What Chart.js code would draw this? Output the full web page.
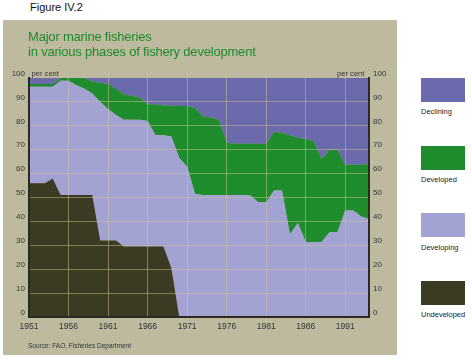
<!DOCTYPE html>
<html>
<head>
<meta charset="utf-8">
<script src="https://cdn.jsdelivr.net/npm/chart.js@4/dist/chart.umd.min.js"></script>
<style>
  html, body { margin:0; padding:0; background:#fff; }
  body { width:472px; height:361px; position:relative; overflow:hidden; font-family:"Liberation Sans", Arial, sans-serif; }
  .abs { position:absolute; white-space:nowrap; }
  #fig { left:30px; top:1px; font-size:11px; line-height:13px; color:#111; }
  #panel { left:3px; top:20px; width:394px; height:335px; background:#bebaa0; }
  #title { left:28px; top:30px; font-size:13px; line-height:14.5px; color:#1d8a2c; letter-spacing:-0.2px; }
  .pc { font-size:7.6px; line-height:9px; color:#333; top:69px; }
  #src { left:28px; top:342px; font-size:6.5px; line-height:8px; color:#333; }
  .box { position:absolute; left:421px; width:44px; height:24px; }
  .lab { position:absolute; left:421px; font-size:7.5px; line-height:9px; color:#222; }
</style>
</head>
<body>
<div id="fig" class="abs">Figure IV.2</div>
<div id="panel" class="abs"><canvas id="c" width="394" height="335"></canvas></div>
<div id="title" class="abs">Major marine fisheries<br>in various phases of fishery development</div>
<div class="abs pc" style="left:31.5px">per cent</div>
<div class="abs pc" style="left:337px">per cent</div>
<div id="src" class="abs">Source: FAO, Fisheries Department</div>
<div id="legend"></div>
<script>
const years = ["1951","1952","1953","1954","1955","1956","1957","1958","1959","1960",
  "1961","1962","1963","1964","1965","1966","1967","1968","1969","1970",
  "1971","1972","1973","1974","1975","1976","1977","1978","1979","1980",
  "1981","1982","1983","1984","1985","1986","1987","1988","1989","1990",
  "1991","1992","1993","1994"];
const undeveloped = [56,56,56,58,51,51,51,51,51,32,
  32,32,29.5,29.5,29.5,29.5,29.5,29.5,20.5,0,
  0,0,0,0,0,0,0,0,0,0,
  0,0,0,0,0,0,0,0,0,0,
  0,0,0,0];
const developing = [40.3,40.3,40.3,38.3,47.8,47.8,46,44.5,42.5,58,
  55,52.5,53,53,53,52.5,46.5,46.5,55,66.5,
  63,51.5,51,51,51,51,51,51,50.8,48,
  48,52.9,52.9,34.5,39.3,31.4,31.4,31.4,35.5,35.5,
  44.6,44.6,42,41];
const developed = [1.2,1.2,1.2,1.2,1.2,1.2,3,4.5,5,8,
  10.5,11,10.7,10,9.3,7,13,12.5,13,21.8,
  25.3,36,33,32.5,31.5,22,21.5,21.5,21.7,24.5,
  24.4,24.6,24.1,41.5,35.7,43.1,42.1,34.6,34.5,34.5,
  19.1,19.1,21.7,23];
const declining = [2.5,2.5,2.5,2.5,0,0,0,0,1.5,2,
  2.5,4.5,6.8,7.5,8.2,11,11,11.5,11.5,11.7,
  11.7,12.5,16,16.5,17.5,27,27.5,27.5,27.5,27.5,
  27.6,22.5,23,24,25,25.5,26.5,34,30,30,
  36.3,36.3,36.3,36];
const seriesNames = ["Undeveloped","Developing","Developed","Declining"];
const seriesColors = ["#3b3a22","#a3a3d3","#1f8c2d","#6a6aad"];
const seriesData = [undeveloped, developing, developed, declining];

const FONT = "'Liberation Sans', Arial, sans-serif";
const gridColor = "rgba(205,195,145,0.5)";
const axisColor = "#2b2a20";

// HTML legend (top to bottom: Declining, Developed, Developing, Undeveloped)
const legendBoxes = [[3,78,107],[2,146,174.5],[1,212.7,242.5],[0,280.7,309.5]];
const lg = document.getElementById('legend');
legendBoxes.forEach(([i, by, ly]) => {
  const b = document.createElement('div'); b.className='box';
  b.style.top = by + 'px'; b.style.background = seriesColors[i]; lg.appendChild(b);
  const t = document.createElement('div'); t.className='lab';
  t.style.top = ly + 'px'; t.textContent = seriesNames[i]; lg.appendChild(t);
});

const datasets = seriesData.map((d, i) => ({
  label: seriesNames[i],
  data: d,
  backgroundColor: seriesColors[i],
  borderColor: seriesColors[i],
  borderWidth: 0,
  pointRadius: 0,
  tension: 0,
  fill: i === 0 ? 'origin' : '-1'
}));

new Chart(document.getElementById('c'), {
  type: 'line',
  data: { labels: years, datasets },
  options: {
    responsive: false,
    animation: false,
    devicePixelRatio: 1,
    layout: { padding: { top: 58, left: 0, right: 0, bottom: 0 } },
    plugins: { legend: { display: false }, tooltip: { enabled: false }, title: { display: false } },
    scales: {
      x: {
        type: 'category', offset: false,
        grid: { z: 1, color: c => (c.index > 0 && c.index % 5 === 0) ? gridColor : 'rgba(0,0,0,0)', drawTicks: false, lineWidth: 1 },
        border: { display: true, color: axisColor, width: 2, z: 2 },
        ticks: { autoSkip: false, maxRotation: 0, padding: 5, color: '#333', font: { size: 8.5, family: FONT },
          callback: (v, i) => i % 5 === 0 ? years[i] : '' },
        afterFit: s => { s.height = 38; }
      },
      y: {
        stacked: true, min: 0, max: 100, position: 'left',
        grid: { z: 1, color: c => (c.tick && c.tick.value > 0 && c.tick.value < 100) ? gridColor : 'rgba(0,0,0,0)', drawTicks: false },
        border: { display: true, color: axisColor, width: 2, z: 2 },
        ticks: { stepSize: 10, padding: 4, labelOffset: -4.5, color: '#333', font: { size: 8, family: FONT } },
        afterFit: s => { s.width = 26; }
      },
      y2: {
        min: 0, max: 100, position: 'right',
        grid: { display: false, drawTicks: false },
        border: { display: true, color: axisColor, width: 2, z: 2 },
        ticks: { stepSize: 10, padding: 4, labelOffset: -4.5, color: '#333', font: { size: 8, family: FONT } },
        afterFit: s => { s.width = 28; }
      }
    }
  }
});
</script>
</body>
</html>
